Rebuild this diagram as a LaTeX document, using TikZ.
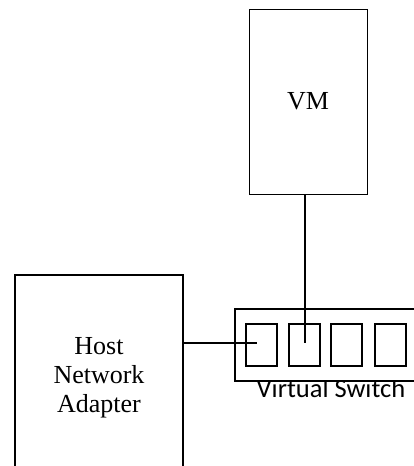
\documentclass[tikz,border=0pt]{standalone}
\usepackage{fontspec}
\setmainfont{Liberation Serif}
\newfontfamily\labelfont{Carlito}
\begin{document}
\begin{tikzpicture}[x=1pt,y=-1pt,
  thinbox/.style={draw,line width=1pt,rectangle,inner sep=0pt,align=center,font=\fontsize{26}{29}\selectfont},
  port/.style={draw,line width=2pt,rectangle,inner sep=0pt,minimum width=31pt,minimum height=42pt},
  wire/.style={line width=2pt}]
\useasboundingbox (0,0) rectangle (414,466);
\clip (0,0) rectangle (414,466);
\node[thinbox,minimum width=118pt,minimum height=185pt] (vm) at (308,101.5) {VM};
\node[thinbox,line width=1.5pt,minimum width=168pt,minimum height=206pt] (host) at (99,378) {Host\\Network\\Adapter};
\node[draw,line width=1.5pt,rectangle,inner sep=0pt,minimum width=190pt,minimum height=72pt] (switch) at (330,345) {};
\node[port] (p1) at (261.5,345) {};
\node[port] (p2) at (304.5,345) {};
\node[port] (p3) at (346.5,345) {};
\node[port] (p4) at (390,345) {};
\begin{scope}
\clip (220,381.5) rectangle (414,420);
\node[anchor=base,inner sep=0pt,font=\labelfont\fontsize{26.5}{28}\selectfont] (lbl) at (331,397.5) {Virtual Switch};
\end{scope}
\coordinate (p1end) at (257,343);
\coordinate (p2end) at (305,343);
\draw[wire] (host.east |- p1end) -- (p1end);
\draw[wire] (vm.south -| p2end) -- (p2end);
\end{tikzpicture}
\end{document}
